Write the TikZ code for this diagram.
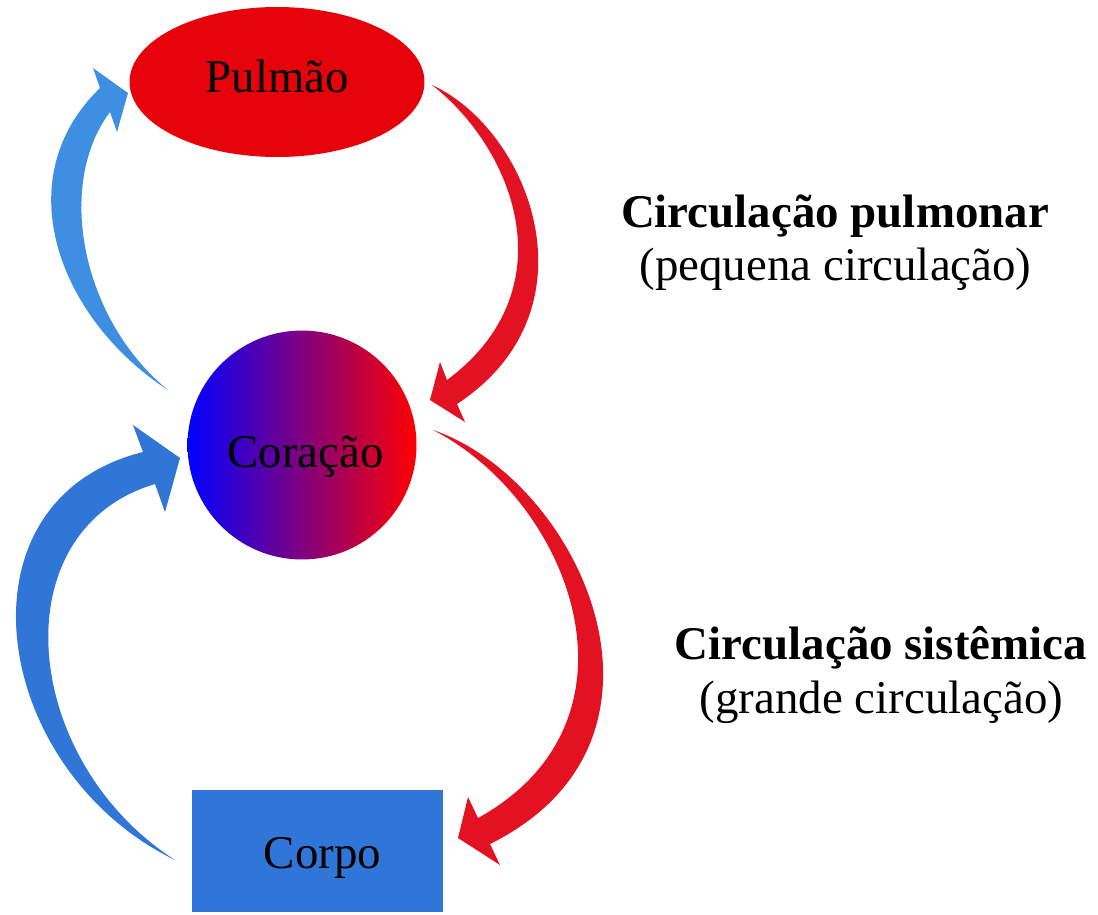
\documentclass[tikz,border=0pt]{standalone}
\usepackage{fontspec}
\setmainfont{Liberation Serif}
\usetikzlibrary{shapes.geometric}
\definecolor{lungred}{RGB}{230,2,10}
\definecolor{arrowred}{RGB}{226,18,34}
\definecolor{arrowblueA}{RGB}{62,142,226}
\definecolor{arrowblueB}{RGB}{48,118,214}
\definecolor{bodyblue}{RGB}{48,118,216}
\tikzset{
  organ/.style={inner sep=0pt, outer sep=0pt},
  label/.style={inner sep=0pt, anchor=base, font=\fontsize{26.7pt}{32pt}\selectfont},
  title/.style={label, font=\fontsize{26.7pt}{32pt}\selectfont\bfseries},
}
\begin{document}
\begin{tikzpicture}[x=0.02cm, y=-0.02cm]
\useasboundingbox[fill=white] (0,0) rectangle (1098,914);
% shapes
\node[organ, ellipse, fill=lungred, minimum width=5.9cm, minimum height=3.0cm] (pulmao) at (277,82) {};
\node[organ, circle, minimum size=4.58cm, left color=blue, right color=red] (coracao) at (302,445) {};
\node[organ, rectangle, fill=bodyblue, minimum width=5.02cm, minimum height=2.44cm] (corpo) at (317.5,851) {};
% arrows
\fill[arrowblueA] (168,390) .. controls (60,320) and (5,180) .. (100,88) -- (93,68) -- (128,93) -- (117,132) -- (110,112) .. controls (55,185) and (82,320) .. (168,390) -- cycle;
\fill[arrowred] (432,85) .. controls (530,130) and (600,310) .. (457,404) -- (465,422) -- (430,400) -- (440,362) -- (447,380) .. controls (568,290) and (515,150) .. (432,85) -- cycle;
\fill[arrowred] (433,430) .. controls (580,480) and (700,740) .. (490,844) -- (500,865) -- (458,838) -- (468,797) -- (478,818) .. controls (655,720) and (570,500) .. (433,430) -- cycle;
\fill[arrowblueB] (175,860) .. controls (-10,770) and (-50,500) .. (143,452) -- (133,425) -- (180,458) -- (165,512) -- (155,484) .. controls (0,530) and (20,760) .. (175,860) -- cycle;
% labels
\node[label] (tpulmao) at (277.5,92) {Pulmão};
\node[label] (tcoracao) at (305.5,467) {Coração};
\node[label] (tcorpo) at (322.5,868) {Corpo};
\node[title] (tpulm) at (835,227) {Circulação pulmonar};
\node[label] (tpeq) at (835.5,280) {(pequena circulação)};
\node[title] (tsist) at (881,659) {Circulação sistêmica};
\node[label] (tgrande) at (881.5,713) {(grande circulação)};
\end{tikzpicture}
\end{document}
